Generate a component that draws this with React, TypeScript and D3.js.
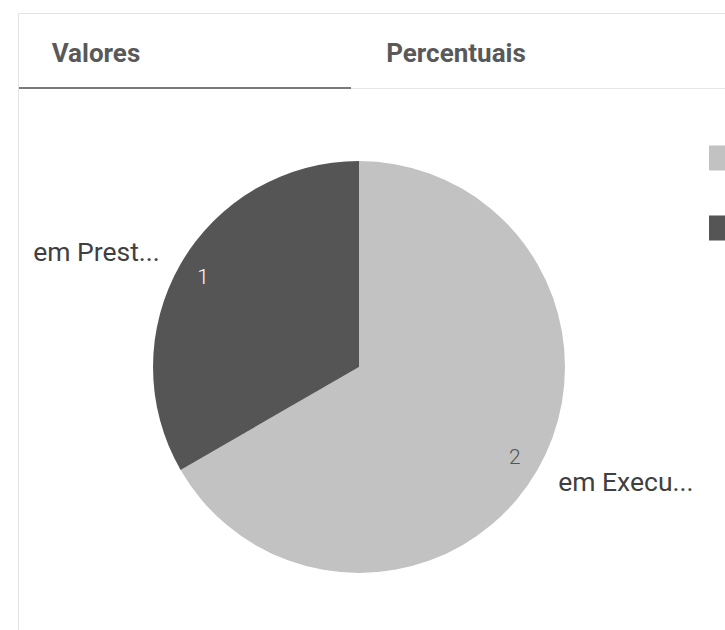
import React, { useEffect, useRef } from 'react';
import * as d3 from 'd3';

const categories = ['em Execução', 'em Prestação de Contas'];
const shortLabels = ['em Execu...', 'em Prest...'];
const values = [2, 1];
const colors = ['#c2c2c2', '#555555'];
const tabs = ['Valores', 'Percentuais'];

const FONT = "Roboto, 'Noto Sans', sans-serif";

export default function App() {
  const svgRef = useRef<SVGSVGElement>(null);

  useEffect(() => {
    if (!svgRef.current) return;
    document.body.style.margin = '0';
    const width = 725;
    const height = 630;

    const svg = d3.select(svgRef.current);
    svg.selectAll('*').remove();
    svg.attr('width', width).attr('height', height);

    svg.append('rect').attr('width', width).attr('height', height).attr('fill', '#ffffff');

    // card border
    svg.append('path')
      .attr('d', `M18.5,${height} V13.5 H${width}`)
      .attr('fill', 'none')
      .attr('stroke', '#e3e3e3')
      .attr('stroke-width', 1);

    // tabs
    svg.append('line')
      .attr('x1', 19).attr('x2', width).attr('y1', 88.5).attr('y2', 88.5)
      .attr('stroke', '#e6e6e6');
    svg.append('line')
      .attr('x1', 19).attr('x2', 351).attr('y1', 88).attr('y2', 88)
      .attr('stroke', '#7a7a7a').attr('stroke-width', 2);
    svg.selectAll('text.tab')
      .data(tabs)
      .enter()
      .append('text')
      .attr('class', 'tab')
      .attr('x', (_, i) => (i === 0 ? 96 : 456))
      .attr('y', 53)
      .attr('dy', '0.35em')
      .attr('text-anchor', 'middle')
      .attr('fill', '#595959')
      .style('font-family', FONT)
      .style('font-size', '26px')
      .style('font-weight', 'bold')
      .text(d => d);

    // pie
    const cx = 359;
    const cy = 367;
    const radius = 206;
    const data = categories.map((c, i) => ({ label: c, short: shortLabels[i], value: values[i], color: colors[i] }));
    type D = typeof data[number];

    const pie = d3.pie<D>().value(d => d.value).sort(null);
    const arc = d3.arc<d3.PieArcDatum<D>>().innerRadius(0).outerRadius(radius);
    const inner = d3.arc<d3.PieArcDatum<D>>().innerRadius(180).outerRadius(180);
    const outer = d3.arc<d3.PieArcDatum<D>>().innerRadius(230).outerRadius(230);

    const g = svg.append('g').attr('transform', `translate(${cx},${cy})`);
    const arcs = pie(data);

    g.selectAll('path')
      .data(arcs)
      .enter()
      .append('path')
      .attr('d', arc)
      .attr('fill', d => d.data.color)
      .append('title')
      .text(d => `${d.data.label}: ${d.data.value}`);

    g.selectAll('text.val')
      .data(arcs)
      .enter()
      .append('text')
      .attr('class', 'val')
      .attr('transform', d => `translate(${inner.centroid(d)})`)
      .attr('text-anchor', 'middle')
      .attr('dy', '0.35em')
      .attr('fill', (_, i) => (i === 0 ? '#555555' : '#ffffff'))
      .style('font-family', FONT)
      .style('font-size', '21px')
      .style('font-weight', 300)
      .text(d => d.data.value);

    g.selectAll('text.lbl')
      .data(arcs)
      .enter()
      .append('text')
      .attr('class', 'lbl')
      .attr('transform', d => `translate(${outer.centroid(d)})`)
      .attr('text-anchor', d => ((d.startAngle + d.endAngle) / 2 < Math.PI ? 'start' : 'end'))
      .attr('dy', '0.35em')
      .attr('fill', '#404040')
      .style('font-family', FONT)
      .style('font-size', '26.5px')
      .text(d => d.data.short);

    // legend swatches (labels fall outside the visible area)
    const legendY = d3.scalePoint<string>().domain(categories).range([158, 228]);
    svg.selectAll('rect.leg')
      .data(data)
      .enter()
      .append('rect')
      .attr('class', 'leg')
      .attr('x', 709)
      .attr('y', d => (legendY(d.label) as number) - 12.5)
      .attr('width', 25)
      .attr('height', 25)
      .attr('fill', d => d.color)
      .append('title')
      .text(d => d.label);
  }, []);

  return (
    <div style={{ position: 'fixed', left: 0, top: 0, width: 725, height: 630, overflow: 'hidden' }}>
      <svg ref={svgRef} style={{ display: 'block' }}></svg>
    </div>
  );
}
